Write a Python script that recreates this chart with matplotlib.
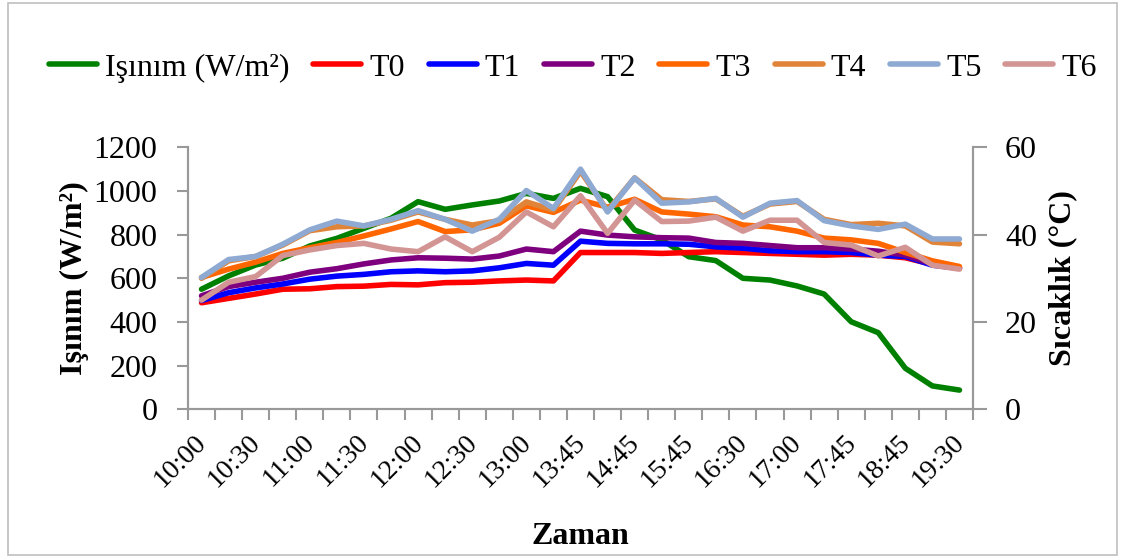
import matplotlib
matplotlib.use("Agg")
import matplotlib.pyplot as plt
import matplotlib.transforms as mtransforms
from matplotlib.patches import Rectangle

plt.rcParams['font.family'] = ['Liberation Serif', 'DejaVu Serif']

times = ['10:00', '10:15', '10:30', '10:45', '11:00', '11:15', '11:30', '11:45',
         '12:00', '12:15', '12:30', '12:45', '13:00', '13:30', '13:45', '14:15',
         '14:45', '15:15', '15:45', '16:00', '16:30', '16:45', '17:00', '17:30',
         '17:45', '18:15', '18:45', '19:00', '19:30']

isinim = [550, 611, 661, 692, 748, 783, 829, 875, 951, 916, 936, 954, 989, 966,
          1012, 974, 821, 776, 699, 681, 600, 592, 565, 528, 401, 351, 188, 107, 88]

t0 = [24.4, 25.4, 26.4, 27.5, 27.6, 28.1, 28.2, 28.6, 28.5, 29.0, 29.1, 29.4, 29.6, 29.4,
      35.9, 35.9, 35.9, 35.7, 35.9, 36.1, 35.9, 35.7, 35.5, 35.3, 35.5, 35.3, 34.7, 33.2, 32.3]
t1 = [24.9, 26.7, 27.8, 28.7, 29.8, 30.5, 30.9, 31.5, 31.7, 31.5, 31.7, 32.4, 33.4, 33.0,
      38.5, 38.0, 37.9, 37.9, 37.8, 37.2, 36.9, 36.3, 36.1, 36.1, 35.9, 35.3, 35.0, 33.0, 32.3]
t2 = [26.0, 28.1, 29.1, 30.0, 31.4, 32.2, 33.3, 34.2, 34.7, 34.6, 34.4, 35.1, 36.7, 36.1,
      40.8, 39.9, 39.5, 39.3, 39.2, 38.2, 38.0, 37.5, 37.0, 37.0, 36.7, 36.2, 35.3, 33.3, 32.4]
t3 = [30.2, 32.1, 33.7, 35.7, 37.0, 38.2, 39.7, 41.3, 43.0, 40.7, 41.1, 42.6, 46.6, 45.1,
      47.9, 46.3, 48.1, 45.2, 44.7, 44.1, 42.2, 41.8, 40.8, 39.2, 38.8, 38.0, 35.9, 34.0, 32.7]
t4 = [30.0, 34.0, 35.0, 37.6, 40.9, 41.8, 42.0, 43.3, 45.2, 43.5, 42.2, 43.2, 47.5, 45.6,
      54.5, 45.5, 53.0, 48.0, 47.6, 48.2, 44.2, 47.0, 47.6, 43.5, 42.3, 42.6, 42.0, 38.3, 37.9]
t5 = [30.2, 34.3, 35.0, 37.8, 41.1, 43.1, 42.0, 43.5, 45.5, 43.5, 40.8, 43.5, 50.1, 46.0,
      55.0, 45.2, 53.0, 47.2, 47.5, 48.3, 44.0, 47.2, 47.8, 43.2, 42.0, 41.2, 42.4, 39.0, 39.0]
t6 = [25.0, 29.1, 30.4, 35.2, 36.5, 37.5, 38.0, 36.7, 36.1, 39.5, 36.1, 39.4, 45.2, 41.8,
      48.9, 40.3, 47.9, 43.0, 43.1, 44.0, 40.8, 43.3, 43.3, 38.2, 37.6, 35.1, 37.1, 33.0, 32.1]

temps = [t0, t1, t2, t3, t4, t5, t6]
temp_names = ['T0', 'T1', 'T2', 'T3', 'T4', 'T5', 'T6']
temp_colors = ['#ff0000', '#0000ff', '#7f007f', '#ff6600', '#e0843a', '#8faad2', '#d39494']

W, H = 1122, 558
fig = plt.figure(figsize=(W / 100, H / 100), dpi=100)
ax = fig.add_axes([188 / W, 1 - 409.3 / H, (973 - 188) / W, (409.3 - 147.3) / H])
ax2 = ax.twinx()

x = list(range(len(times)))
fs = 23
grey = '#999999'
lw = 4

l_main, = ax.plot(x, isinim, color='#008000', lw=lw, solid_capstyle='round',
                  label='Işınım (W/m²)')
handles = [l_main]
for vals, name, col in zip(temps, temp_names, temp_colors):
    ln, = ax2.plot(x, vals, color=col, lw=lw, solid_capstyle='round', label=name)
    handles.append(ln)

ax.set_xlim(-0.5, len(times) - 0.5)
ax.set_ylim(0, 1200)
ax2.set_ylim(0, 60)
ax.set_yticks(range(0, 1201, 200))
ax2.set_yticks(range(0, 61, 20))

# labels on every second time point, tick marks between the categories
ax.set_xticks(x[::2])
ax.set_xticklabels(times[::2], rotation=45, ha='right', va='center',
                   rotation_mode='anchor', fontsize=20)
ax.set_xticks([i - 0.5 for i in range(len(times) + 1)], minor=True)
ax.tick_params(axis='x', which='major', length=0, pad=21)
ax.tick_params(axis='x', which='minor', length=8, width=1.5, color=grey)
offset = mtransforms.ScaledTranslation(1 / 100, 0, fig.dpi_scale_trans)
for lab in ax.get_xticklabels():
    lab.set_transform(lab.get_transform() + offset)

ax.tick_params(axis='y', length=8, width=1.5, color=grey, labelsize=fs, pad=14)
ax2.tick_params(axis='y', length=10, width=1.5, color=grey, labelsize=fs, pad=13)

for a in (ax, ax2):
    a.spines['top'].set_visible(False)
    for s in ('left', 'right', 'bottom'):
        a.spines[s].set_color(grey)
        a.spines[s].set_linewidth(1.5)

ax.set_xlabel('Zaman', fontsize=fs, fontweight='bold')
ax.xaxis.set_label_coords(0.5, (409.3 - 536) / 262)
ax.xaxis.label.set_va('center')
ax.set_ylabel('Işınım (W/m²)', fontsize=fs, fontweight='bold')
ax.yaxis.set_label_coords((74 - 188) / 785, 0.5)
ax.yaxis.label.set_va('center')
ax2.set_ylabel('Sıcaklık (°C)', fontsize=fs, fontweight='bold', rotation=90)
ax2.yaxis.set_label_coords((1063 - 188) / 785, 0.5)
ax2.yaxis.label.set_va('center')

fig.legend(handles=handles, loc='center', bbox_to_anchor=(573 / W, 1 - 68 / H),
           ncol=8, frameon=False, fontsize=fs, handlelength=1.5, handletextpad=0.25,
           columnspacing=0.75, borderaxespad=0)

fig.patches.append(Rectangle((8 / W, 3 / H), (1117 - 8) / W, (555 - 3) / H,
                             transform=fig.transFigure, fill=False,
                             edgecolor='#bfbfbf', lw=1.2))

fig.savefig('out.png', dpi=100)
